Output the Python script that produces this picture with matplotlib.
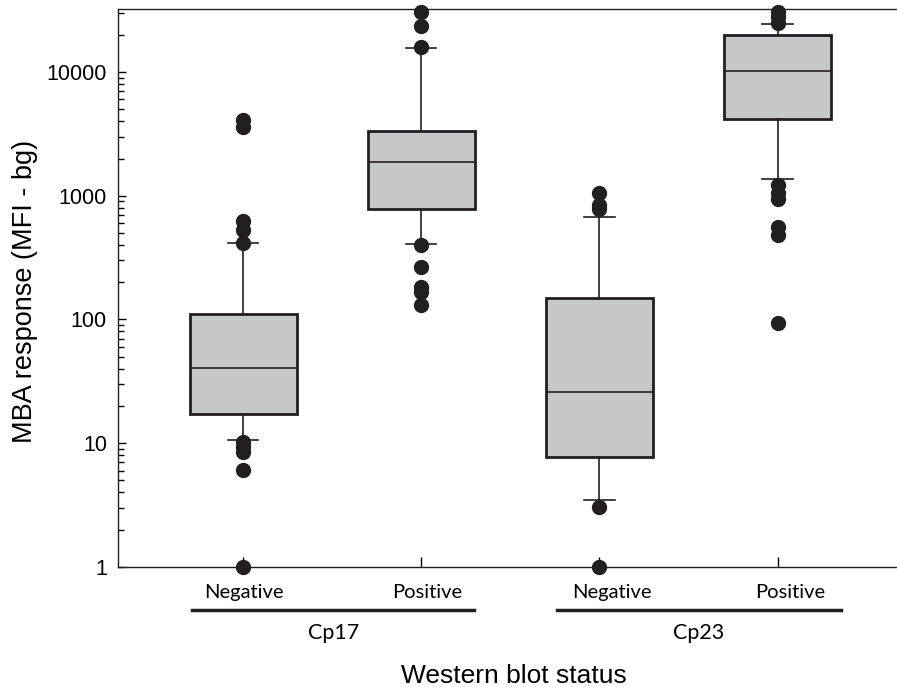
import matplotlib
matplotlib.use("Agg")
import matplotlib.pyplot as plt
from matplotlib.ticker import LogLocator, FixedFormatter, FixedLocator, NullFormatter
import matplotlib.transforms as mtransforms

# box statistics (MFI - bg)
positions = [1, 2, 3, 4]
tick_labels = ["Negative", "Positive", "Negative", "Positive"]
groups = ["Cp17", "Cp23"]
q1 = [17.2, 778, 7.8, 4150]
median = [40.5, 1890, 25.9, 10100]
q3 = [110, 3340, 148, 20000]
whislo = [10.6, 405, 3.45, 1360]
whishi = [415, 15700, 670, 24600]
outliers = [
    [4100, 3600, 625, 530, 415, 10.3, 9.4, 8.5, 6.1, 1],
    [30800, 23500, 15900, 400, 267, 182, 166, 131],
    [1060, 843, 778, 3.05, 1],
    [30700, 28000, 25000, 1220, 1050, 940, 560, 482, 94],
]

stats = []
for i in range(len(positions)):
    stats.append(dict(q1=q1[i], med=median[i], q3=q3[i],
                      whislo=whislo[i], whishi=whishi[i], fliers=outliers[i]))

fig = plt.figure(figsize=(8.97, 6.87), dpi=100)
ax = fig.add_axes([0.1316, 0.1747, 0.8684, 0.8122])

parts = ax.bxp(stats, positions=positions, widths=0.6, capwidths=0.17,
               patch_artist=True, showfliers=True,
               boxprops=dict(facecolor="#c6c7c9", edgecolor="#231f20", linewidth=2.0),
               medianprops=dict(color="#231f20", linewidth=1.2),
               whiskerprops=dict(color="#231f20", linewidth=1.2),
               capprops=dict(color="#231f20", linewidth=1.2),
               flierprops=dict(marker="o", markerfacecolor="#231f20",
                               markeredgecolor="#231f20", markersize=10,
                               linestyle="none"))
for fl in parts["fliers"]:
    fl.set_clip_on(False)
    fl.set_zorder(4)

ax.set_yscale("log")
ax.set_ylim(1, 32300)
ax.set_xlim(0.298, 4.67)

ax.yaxis.set_major_locator(FixedLocator([1, 10, 100, 1000, 10000]))
ax.yaxis.set_major_formatter(FixedFormatter(["1", "10", "100", "1000", "10000"]))
ax.yaxis.set_minor_locator(LogLocator(base=10, subs=range(2, 10), numticks=20))
ax.yaxis.set_minor_formatter(NullFormatter())

ax.set_xticks(positions)
ax.set_xticklabels(tick_labels, fontfamily="Lato", fontsize=14.5)
ax.tick_params(axis="y", which="major", direction="in", length=6, width=1,
               labelsize=15.5, pad=8)
ax.tick_params(axis="y", which="minor", direction="in", length=4, width=1)
ax.tick_params(axis="x", direction="in", length=7, width=1, pad=12)
for lab in ax.get_yticklabels():
    lab.set_fontfamily("Liberation Sans")

# the category labels sit a little right of their ticks in the original
shifts = [1, 6, 12, 13]
for lab, dx in zip(ax.get_xticklabels(), shifts):
    lab.set_transform(lab.get_transform() +
                      mtransforms.ScaledTranslation(dx / 100, 0, fig.dpi_scale_trans))

ax.spines["right"].set_visible(False)
for s in ["left", "bottom", "top"]:
    ax.spines[s].set_linewidth(1.0)
    ax.spines[s].set_color("#231f20")

# group underline and group names
trans = mtransforms.blended_transform_factory(ax.transData, ax.transAxes)
spans = [(0.713, 2.298), (2.764, 4.354)]
for name, (x0, x1) in zip(groups, spans):
    ax.plot([x0, x1], [-0.077, -0.077], color="#231f20", linewidth=2.5,
            transform=trans, clip_on=False)
    ax.text((x0 + x1) / 2, -0.118, name, transform=trans, ha="center",
            va="center", fontsize=15.5, fontfamily="Lato")

fig.text(0.5725, 0.016, "Western blot status", ha="center", va="center",
         fontsize=19, fontfamily="Liberation Sans")
fig.text(0.028, 1 - 291 / 687, "MBA response (MFI - bg)", rotation=90,
         ha="center", va="center", fontsize=19.5, fontfamily="Liberation Sans")

fig.savefig("out.png", dpi=100)
